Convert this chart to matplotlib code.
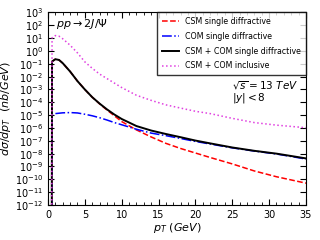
import matplotlib
matplotlib.use("Agg")
import matplotlib.pyplot as plt
import numpy as np

# pT grid (GeV); first point is the sharp cut at pT ~ 0.5
pt = [0.5, 0.55, 1.0, 1.5, 2, 3, 4, 5, 6, 7, 8, 9, 10, 12, 14, 16, 18, 20, 22, 25, 28, 31, 35]

# log10 of dsigma/dpT (nb/GeV)
csm_sd = [-16, -0.82, -0.64, -0.70, -0.95, -1.60, -2.35, -3.00, -3.60, -4.12, -4.60, -5.05,
          -5.50, -6.15, -6.70, -7.20, -7.60, -7.95, -8.30, -8.80, -9.35, -9.80, -10.30]
com_sd = [-16, -5.00, -4.88, -4.85, -4.82, -4.80, -4.83, -4.93, -5.05, -5.20, -5.38, -5.58,
          -5.75, -6.10, -6.40, -6.60, -6.82, -7.05, -7.25, -7.55, -7.80, -8.03, -8.42]
tot_sd = [-16, -0.82, -0.64, -0.70, -0.95, -1.60, -2.35, -3.00, -3.60, -4.10, -4.55, -4.95,
          -5.30, -5.85, -6.20, -6.47, -6.72, -6.98, -7.20, -7.52, -7.78, -8.00, -8.37]
tot_incl = [-16, 1.03, 1.20, 1.15, 0.95, 0.45, -0.15, -0.85, -1.35, -1.80, -2.15, -2.50,
            -2.85, -3.45, -3.85, -4.20, -4.45, -4.70, -4.88, -5.25, -5.58, -5.78, -5.98]

fig = plt.figure(figsize=(3.2, 2.4), dpi=100)
ax = fig.add_axes([0.15, 0.146, 0.806, 0.802])

ax.plot(pt, 10.0 ** np.array(csm_sd), color="red", linestyle="--", lw=1.1, label="CSM single diffractive")
ax.plot(pt, 10.0 ** np.array(com_sd), color="blue", linestyle="-.", lw=1.1, label="COM single diffractive")
ax.plot(pt, 10.0 ** np.array(tot_sd), color="black", linestyle="-", lw=1.4, label="CSM + COM single diffractive")
ax.plot(pt, 10.0 ** np.array(tot_incl), color="#e040e0", linestyle=":", lw=1.1, label="CSM + COM inclusive")

ax.set_yscale("log")
ax.set_xlim(0, 35)
ax.set_ylim(1e-12, 1e3)
ax.set_yticks([10.0 ** k for k in range(-12, 4)])
ax.yaxis.set_minor_locator(matplotlib.ticker.NullLocator())
ax.xaxis.set_minor_locator(matplotlib.ticker.MultipleLocator(1))
ax.tick_params(which="both", direction="in", top=True, right=True, labelsize=7)
ax.tick_params(which="major", length=4)
ax.tick_params(which="minor", length=2)

ax.set_xlabel(r"$p_T\ (GeV)$", fontsize=8, labelpad=1)
ax.set_ylabel(r"$d\sigma/dp_T\ \ (nb/GeV)$", fontsize=8, labelpad=1)

ax.text(0.03, 0.94, r"$pp \to 2J/\Psi$", transform=ax.transAxes, fontsize=8, va="center")
ax.text(0.715, 0.585, r"$\sqrt{s}=13\ TeV$" + "\n" + r"$|y|<8$", transform=ax.transAxes,
        fontsize=7.5, va="center", linespacing=0.9)

ax.legend(loc="upper right", fontsize=5.7, fancybox=False, edgecolor="black",
          handlelength=2.2, borderpad=0.6, labelspacing=0.72, borderaxespad=0.0,
          handletextpad=0.8)

fig.savefig("out.png", dpi=100)
